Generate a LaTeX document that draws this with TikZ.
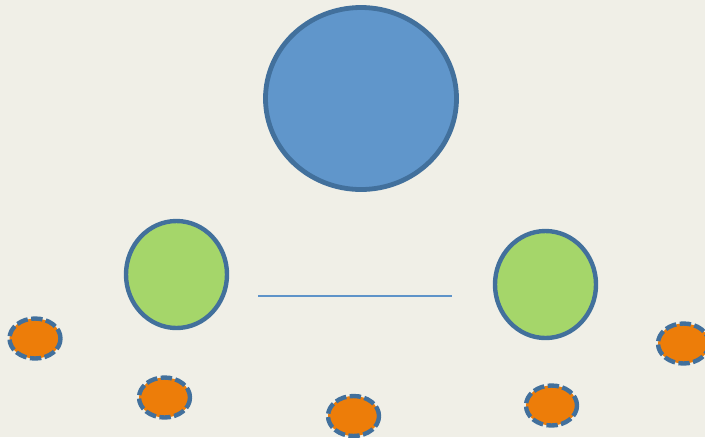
\documentclass[tikz,border=0pt]{standalone}
\definecolor{bg}{HTML}{F0EFE7}
\definecolor{bluefill}{HTML}{6096CB}
\definecolor{blueedge}{HTML}{42709C}
\definecolor{greenfill}{HTML}{A5D66A}
\definecolor{orangefill}{HTML}{ED7D09}
\definecolor{linecol}{HTML}{5E93C9}
\begin{document}
\begin{tikzpicture}[x=0.75pt,y=-0.75pt,
  big/.style={fill=bluefill,draw=blueedge,line width=3.6pt},
  mid/.style={fill=greenfill,draw=blueedge,line width=3.3pt},
  small/.style={fill=orangefill,draw=blueedge,line width=3.3pt,dash pattern=on 8.5pt off 2.6pt},
  link/.style={draw=linecol,line width=1.6pt}]
\fill[bg] (0,0) rectangle (705,437);
\useasboundingbox (0,0) rectangle (705,437);
\begin{scope}
\clip (0,0) rectangle (705,437);
\path[big] (361,98.5) ellipse [x radius=95.5, y radius=91];
\path[mid] (176.5,274.5) ellipse [x radius=50.5, y radius=53.5];
\path[mid] (545.5,284.5) ellipse [x radius=50.5, y radius=53.5];
\coordinate (la) at (258,296);
\coordinate (lb) at (452,296);
\draw[link] (la) -- (lb);
\path[small] (35,338.5) ellipse [x radius=25.5, y radius=20];
\path[small] (164.5,397.5) ellipse [x radius=25.5, y radius=20];
\path[small] (353.5,416) ellipse [x radius=25.5, y radius=20];
\path[small] (551.5,405.5) ellipse [x radius=25.5, y radius=20];
\path[small] (683.5,343.5) ellipse [x radius=25.5, y radius=20];
\end{scope}
\end{tikzpicture}
\end{document}
